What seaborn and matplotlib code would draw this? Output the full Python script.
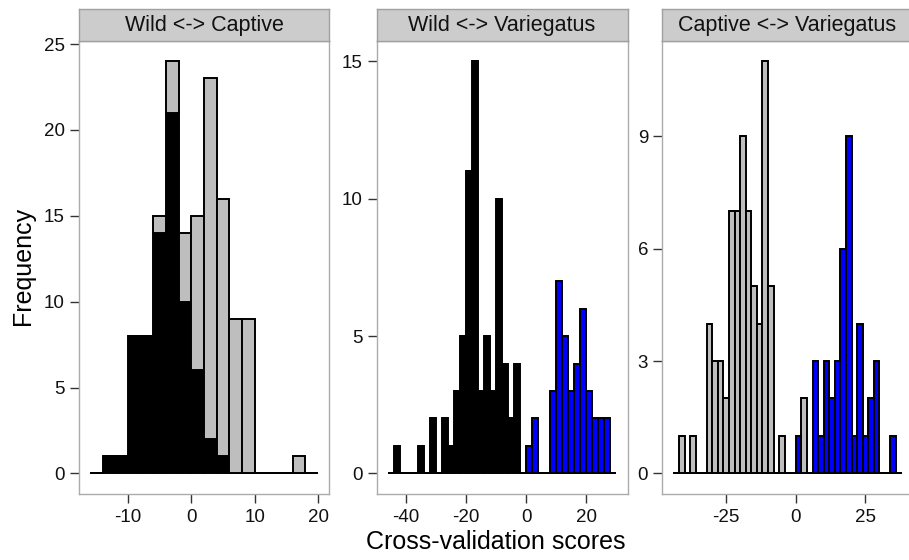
import numpy as np
import pandas as pd
import matplotlib
matplotlib.use("Agg")
import matplotlib.pyplot as plt
import seaborn as sns

# bin edges (binwidth 2) for each comparison
wc_edges = list(range(-16, 21, 2))
wv_edges = list(range(-46, 31, 2))
cv_edges = list(range(-44, 39, 2))

# Wild <-> Captive counts per bin
wc_wild = [0, 1, 1, 8, 8, 14, 21, 10, 6, 2, 1, 0, 0, 0, 0, 0, 0, 0]
wc_captive = [0, 0, 0, 0, 0, 1, 3, 4, 9, 21, 15, 9, 9, 0, 0, 0, 1, 0]

# Wild <-> Variegatus
wv_wild = [0, 1, 0, 0, 0, 1, 0, 2, 0, 2, 1, 3, 5, 11, 15, 3, 5, 3, 10, 4, 2, 4, 0] + [0] * 15
wv_variegatus = [0] * 23 + [1, 2, 0, 0, 3, 7, 5, 3, 4, 6, 3, 2, 2, 2, 0]

# Captive <-> Variegatus
cv_captive = [0, 1, 0, 1, 0, 0, 4, 3, 3, 2, 7, 7, 9, 7, 5, 4, 11, 5, 0, 1, 0, 0, 0, 2] + [0] * 17
cv_variegatus = [0] * 22 + [1, 0, 0, 3, 1, 3, 2, 3, 6, 9, 1, 4, 1, 2, 3, 0, 0, 1, 0]

titles = ["Wild <-> Captive", "Wild <-> Variegatus", "Captive <-> Variegatus"]
x_ticks = [[-10, 0, 10, 20], [-40, -20, 0, 20], [-25, 0, 25]]
y_ticks = [[0, 5, 10, 15, 20, 25], [0, 5, 10, 15], [0, 3, 6, 9]]

GRAY = "#BEBEBE"
BLUE = "#0000FF"

panels = [
    (wc_edges, ["Captive", "Wild"], [wc_captive, wc_wild], [GRAY, "black"]),
    (wv_edges, ["Variegatus", "Wild"], [wv_variegatus, wv_wild], [BLUE, "black"]),
    (cv_edges, ["Variegatus", "Captive"], [cv_variegatus, cv_captive], [BLUE, GRAY]),
]

sns.set_style("ticks")
plt.rcParams['font.family'] = ['Liberation Sans', 'DejaVu Sans']
plt.rcParams['axes.unicode_minus'] = False

W, H = 909, 560
fig = plt.figure(figsize=(W / 100, H / 100), dpi=100)

lefts = [78.5, 376.6, 662.0]
pw = 251.0
bottom_px, top_px, strip_top = 494.0, 40.7, 9.3

for i, (edges, groups, counts, colors) in enumerate(panels):
    ax = fig.add_axes([lefts[i] / W, 1 - bottom_px / H, pw / W, (bottom_px - top_px) / H])
    e = np.array(edges, dtype=float)
    centers = (e[:-1] + e[1:]) / 2
    df = pd.DataFrame({
        "score": np.tile(centers, len(groups)),
        "count": np.concatenate(counts),
        "group": np.repeat(groups, len(centers)),
    })
    sns.histplot(data=df, x="score", weights="count", hue="group", hue_order=groups,
                 palette=dict(zip(groups, colors)), multiple="stack", bins=list(edges),
                 alpha=1, edgecolor="black", linewidth=1.4, legend=False, ax=ax)

    # ggplot-like 5% expansion
    lo, hi = e[0], e[-1]
    xr = hi - lo
    ax.set_xlim(lo - 0.05 * xr, hi + 0.05 * xr)
    ymax = np.sum(counts, axis=0).max()
    ax.set_ylim(-0.05 * ymax, ymax * 1.05)
    ax.set_xticks(x_ticks[i])
    ax.set_yticks(y_ticks[i])
    ax.set_xlabel("")
    ax.set_ylabel("")
    ax.tick_params(direction="out", length=6.5, width=1, color="#333333",
                   labelsize=13.5, labelcolor="#111111")
    ax.tick_params(axis="x", pad=4.5)
    ax.tick_params(axis="y", pad=3.5)
    for sp in ax.spines.values():
        sp.set_visible(True)
        sp.set_color("#ABABAB")
        sp.set_linewidth(1.0)

    # facet strip
    sax = fig.add_axes([lefts[i] / W, 1 - top_px / H, pw / W, (top_px - strip_top) / H])
    sax.set_facecolor("#CCCCCC")
    sax.set_xticks([])
    sax.set_yticks([])
    for sp in sax.spines.values():
        sp.set_color("#A0A0A0")
        sp.set_linewidth(1.0)
    sax.text(0.5, 0.48, titles[i], ha="center", va="center", fontsize=15.5,
             color="#111111", transform=sax.transAxes)

fig.text(23.3 / W, 1 - 266 / H, "Frequency", rotation=90, ha="center", va="center",
         fontsize=18, color="black")
fig.text(495.8 / W, 1 - 542 / H, "Cross-validation scores", ha="center", va="center",
         fontsize=18, color="black")

fig.savefig("out.png", dpi=100)
